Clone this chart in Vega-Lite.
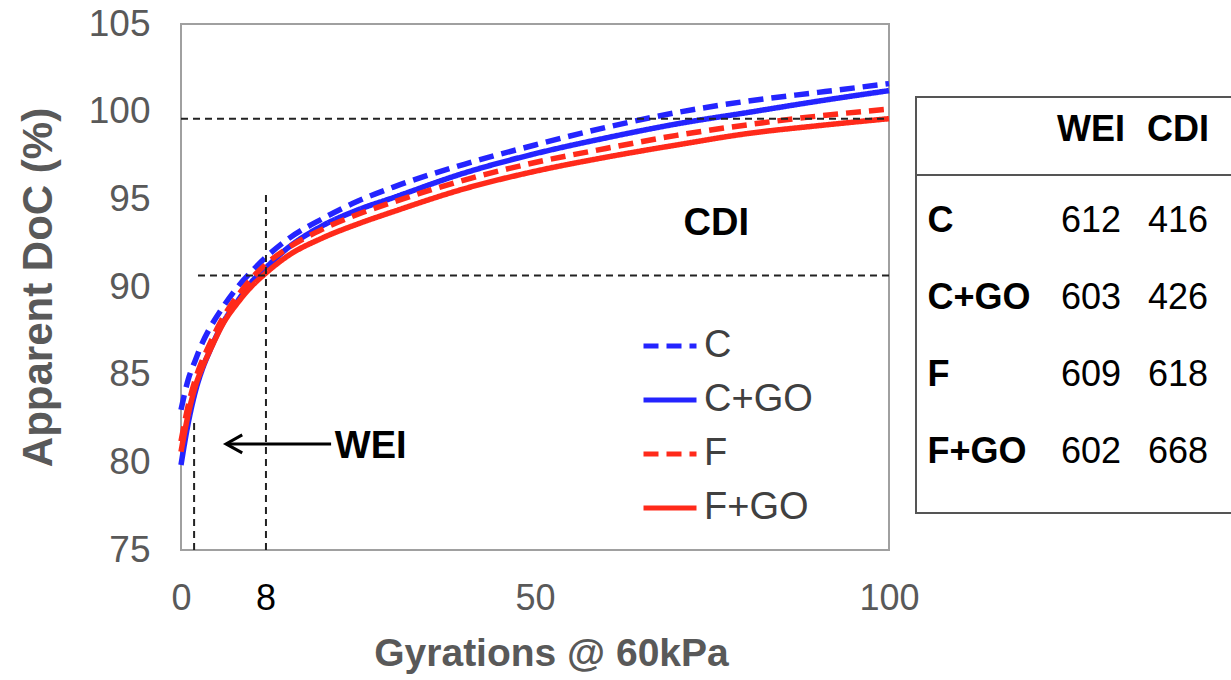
{
  "$schema": "https://vega.github.io/schema/vega-lite/v6.json",
  "padding": {"left": 16, "top": 4, "right": 0, "bottom": 0},
  "bounds": "flush",
  "spacing": 27,
  "resolve": {"scale": {"color": "independent", "strokeDash": "independent"}},
  "config": {
    "font": "Liberation Sans",
    "view": {"stroke": null},
    "axis": {"grid": false, "ticks": false, "domain": false, "labelFont": "Liberation Sans", "titleFont": "Liberation Sans"},
    "legend": {
      "title": null,
      "symbolType": "stroke",
      "symbolSize": 2809,
      "symbolStrokeWidth": 5,
      "labelFont": "Liberation Sans",
      "labelFontSize": 38,
      "labelColor": "#404040",
      "rowPadding": 6,
      "labelOffset": 5
    }
  },
  "datasets": {
    "curves": [
      {"mix": "C", "gyrations": 0, "doc": 83.0}, {"mix": "C", "gyrations": 1, "doc": 84.7}, {"mix": "C", "gyrations": 2, "doc": 85.8}, {"mix": "C", "gyrations": 3, "doc": 86.8}, {"mix": "C", "gyrations": 4, "doc": 87.6}, {"mix": "C", "gyrations": 6, "doc": 88.9}, {"mix": "C", "gyrations": 8, "doc": 90.0}, {"mix": "C", "gyrations": 10, "doc": 90.9}, {"mix": "C", "gyrations": 12, "doc": 91.7}, {"mix": "C", "gyrations": 15, "doc": 92.7}, {"mix": "C", "gyrations": 20, "doc": 93.9}, {"mix": "C", "gyrations": 25, "doc": 94.9}, {"mix": "C", "gyrations": 30, "doc": 95.7}, {"mix": "C", "gyrations": 40, "doc": 97.0}, {"mix": "C", "gyrations": 50, "doc": 98.1}, {"mix": "C", "gyrations": 60, "doc": 99.1}, {"mix": "C", "gyrations": 70, "doc": 99.95}, {"mix": "C", "gyrations": 80, "doc": 100.6}, {"mix": "C", "gyrations": 90, "doc": 101.1}, {"mix": "C", "gyrations": 100, "doc": 101.6},
      {"mix": "C+GO", "gyrations": 0, "doc": 79.85}, {"mix": "C+GO", "gyrations": 1, "doc": 82.2}, {"mix": "C+GO", "gyrations": 2, "doc": 84.0}, {"mix": "C+GO", "gyrations": 3, "doc": 85.3}, {"mix": "C+GO", "gyrations": 4, "doc": 86.3}, {"mix": "C+GO", "gyrations": 6, "doc": 88.0}, {"mix": "C+GO", "gyrations": 8, "doc": 89.2}, {"mix": "C+GO", "gyrations": 10, "doc": 90.3}, {"mix": "C+GO", "gyrations": 12, "doc": 91.1}, {"mix": "C+GO", "gyrations": 15, "doc": 92.2}, {"mix": "C+GO", "gyrations": 20, "doc": 93.5}, {"mix": "C+GO", "gyrations": 25, "doc": 94.4}, {"mix": "C+GO", "gyrations": 30, "doc": 95.1}, {"mix": "C+GO", "gyrations": 40, "doc": 96.5}, {"mix": "C+GO", "gyrations": 50, "doc": 97.6}, {"mix": "C+GO", "gyrations": 60, "doc": 98.5}, {"mix": "C+GO", "gyrations": 70, "doc": 99.3}, {"mix": "C+GO", "gyrations": 80, "doc": 99.95}, {"mix": "C+GO", "gyrations": 90, "doc": 100.6}, {"mix": "C+GO", "gyrations": 100, "doc": 101.2},
      {"mix": "F", "gyrations": 0, "doc": 81.2}, {"mix": "F", "gyrations": 1, "doc": 83.2}, {"mix": "F", "gyrations": 2, "doc": 84.7}, {"mix": "F", "gyrations": 3, "doc": 85.8}, {"mix": "F", "gyrations": 4, "doc": 86.7}, {"mix": "F", "gyrations": 6, "doc": 88.3}, {"mix": "F", "gyrations": 8, "doc": 89.5}, {"mix": "F", "gyrations": 10, "doc": 90.5}, {"mix": "F", "gyrations": 12, "doc": 91.3}, {"mix": "F", "gyrations": 15, "doc": 92.2}, {"mix": "F", "gyrations": 20, "doc": 93.3}, {"mix": "F", "gyrations": 25, "doc": 94.15}, {"mix": "F", "gyrations": 30, "doc": 94.85}, {"mix": "F", "gyrations": 40, "doc": 96.1}, {"mix": "F", "gyrations": 50, "doc": 97.1}, {"mix": "F", "gyrations": 60, "doc": 97.9}, {"mix": "F", "gyrations": 70, "doc": 98.65}, {"mix": "F", "gyrations": 80, "doc": 99.25}, {"mix": "F", "gyrations": 90, "doc": 99.75}, {"mix": "F", "gyrations": 100, "doc": 100.15},
      {"mix": "F+GO", "gyrations": 0, "doc": 80.6}, {"mix": "F+GO", "gyrations": 1, "doc": 82.7}, {"mix": "F+GO", "gyrations": 2, "doc": 84.3}, {"mix": "F+GO", "gyrations": 3, "doc": 85.4}, {"mix": "F+GO", "gyrations": 4, "doc": 86.3}, {"mix": "F+GO", "gyrations": 6, "doc": 87.95}, {"mix": "F+GO", "gyrations": 8, "doc": 89.1}, {"mix": "F+GO", "gyrations": 10, "doc": 90.05}, {"mix": "F+GO", "gyrations": 12, "doc": 90.8}, {"mix": "F+GO", "gyrations": 15, "doc": 91.75}, {"mix": "F+GO", "gyrations": 20, "doc": 92.8}, {"mix": "F+GO", "gyrations": 25, "doc": 93.6}, {"mix": "F+GO", "gyrations": 30, "doc": 94.3}, {"mix": "F+GO", "gyrations": 40, "doc": 95.6}, {"mix": "F+GO", "gyrations": 50, "doc": 96.6}, {"mix": "F+GO", "gyrations": 60, "doc": 97.4}, {"mix": "F+GO", "gyrations": 70, "doc": 98.1}, {"mix": "F+GO", "gyrations": 80, "doc": 98.75}, {"mix": "F+GO", "gyrations": 90, "doc": 99.2}, {"mix": "F+GO", "gyrations": 100, "doc": 99.6}
    ],
    "levels": [
      {"doc": 99.6, "gyrations": 0, "gyrations_end": 100},
      {"doc": 90.65, "gyrations": 2.4, "gyrations_end": 100}
    ],
    "markers": [
      {"gyrations": 12, "doc": 75, "doc_end": 95.5},
      {"gyrations": 1.85, "doc": 75, "doc_end": 82.3}
    ],
    "notes": [
      {"gyrations": 26.8, "doc": 80.88, "text": "WEI"},
      {"gyrations": 75.6, "doc": 93.6, "text": "CDI"}
    ],
    "table": [
      {"mix": "C", "index": "WEI", "value": 612}, {"mix": "C", "index": "CDI", "value": 416},
      {"mix": "C+GO", "index": "WEI", "value": 603}, {"mix": "C+GO", "index": "CDI", "value": 426},
      {"mix": "F", "index": "WEI", "value": 609}, {"mix": "F", "index": "CDI", "value": 618},
      {"mix": "F+GO", "index": "WEI", "value": 602}, {"mix": "F+GO", "index": "CDI", "value": 668}
    ]
  },
  "hconcat": [
    {
      "width": 708,
      "height": 526,
      "view": {"stroke": "#a0a0a0", "strokeWidth": 2},
      "encoding": {
        "x": {
          "field": "gyrations", "type": "quantitative",
          "scale": {"domain": [0, 100], "nice": false},
          "axis": {"values": [0, 50, 100], "labelFlush": false, "labelFontSize": 36, "labelColor": "#595959", "labelPadding": 31, "title": "Gyrations @ 60kPa", "titleX": 370, "titleFontSize": 39, "titleFontWeight": "bold", "titleColor": "#595959", "titlePadding": 18}
        },
        "y": {
          "field": "doc", "type": "quantitative",
          "scale": {"domain": [75, 105], "nice": false},
          "axis": {"values": [75, 80, 85, 90, 95, 100, 105], "labelFlush": false, "labelFontSize": 37, "labelColor": "#595959", "labelPadding": 31, "title": "Apparent DoC (%)", "titleFontSize": 42, "titleFontWeight": "bold", "titleColor": "#595959", "titlePadding": 28}
        }
      },
      "layer": [
        {
          "data": {"name": "curves"},
          "mark": {"type": "line", "strokeWidth": 5.5, "interpolate": "monotone"},
          "encoding": {
            "color": {
              "field": "mix", "type": "nominal",
              "scale": {"domain": ["C", "C+GO", "F", "F+GO"], "range": ["#2424ff", "#2424ff", "#ff2a1a", "#ff2a1a"]},
              "legend": {"orient": "none", "legendX": 460, "legendY": 293}
            },
            "strokeDash": {
              "field": "mix", "type": "nominal",
              "scale": {"domain": ["C", "C+GO", "F", "F+GO"], "range": [[15, 8], [1, 0], [15, 8], [1, 0]]},
              "legend": {"orient": "none", "legendX": 460, "legendY": 293}
            }
          }
        },
        {
          "data": {"name": "levels"},
          "mark": {"type": "rule", "color": "#222222", "strokeWidth": 2, "strokeDash": [7, 5]},
          "encoding": {"x2": {"field": "gyrations_end"}}
        },
        {
          "data": {"name": "markers"},
          "mark": {"type": "rule", "color": "#222222", "strokeWidth": 2, "strokeDash": [7, 5]},
          "encoding": {"y2": {"field": "doc_end"}}
        },
        {
          "data": {"values": [{"gyrations": 6.7, "gyrations_end": 21.2, "doc": 81.05}]},
          "mark": {"type": "rule", "color": "black", "strokeWidth": 3},
          "encoding": {"x2": {"field": "gyrations_end"}}
        },
        {
          "data": {"values": [{"gyrations": 7.63, "doc": 81.05}]},
          "mark": {"type": "point", "shape": "M0.8,-1L-1,0L0.8,1", "size": 324, "filled": false, "stroke": "black", "strokeWidth": 3, "opacity": 1},
          "encoding": {}
        },
        {
          "data": {"name": "notes"},
          "mark": {"type": "text", "fontSize": 38, "fontWeight": "bold", "color": "black", "baseline": "middle"},
          "encoding": {"text": {"field": "text"}}
        },
        {
          "data": {"values": [{"gyrations": 12, "doc": 75, "text": "8"}]},
          "mark": {"type": "text", "fontSize": 36, "color": "black", "baseline": "middle", "dy": 49},
          "encoding": {"text": {"field": "text"}}
        }
      ]
    },
    {
      "spacing": 0,
      "bounds": "flush",
      "vconcat": [
        {
          "width": 316,
          "height": 73,
          "view": {"stroke": null},
          "data": {"values": []},
          "mark": "text"
        },
        {
          "width": 316,
          "height": 78,
          "view": {"stroke": "#555555", "strokeWidth": 2},
          "data": {"values": [{"index": "WEI"}, {"index": "CDI"}]},
          "mark": {"type": "text", "fontSize": 36, "fontWeight": "bold", "color": "black", "baseline": "middle", "dy": -6},
          "encoding": {
            "x": {"field": "index", "type": "nominal", "scale": {"type": "band", "domain": ["WEI", "CDI"], "paddingInner": 0, "paddingOuter": 0.816, "align": 0.926}, "axis": null},
            "text": {"field": "index"}
          }
        },
        {
          "width": 316,
          "height": 338,
          "view": {"stroke": "#555555", "strokeWidth": 2},
          "data": {"name": "table"},
          "mark": {"type": "text", "fontSize": 36, "color": "black", "baseline": "middle"},
          "encoding": {
            "x": {"field": "index", "type": "nominal", "scale": {"type": "band", "domain": ["WEI", "CDI"], "paddingInner": 0, "paddingOuter": 0.816, "align": 0.926}, "axis": null},
            "y": {
              "field": "mix", "type": "nominal",
              "scale": {"type": "band", "domain": ["C", "C+GO", "F", "F+GO"], "paddingInner": 0, "paddingOuter": 0.195, "align": 0.25},
              "axis": {"orient": "left", "title": null, "labelAlign": "left", "labelPadding": -11, "labelFontSize": 36, "labelFontWeight": "bold", "labelColor": "black"}
            },
            "text": {"field": "value"}
          }
        }
      ]
    }
  ]
}
